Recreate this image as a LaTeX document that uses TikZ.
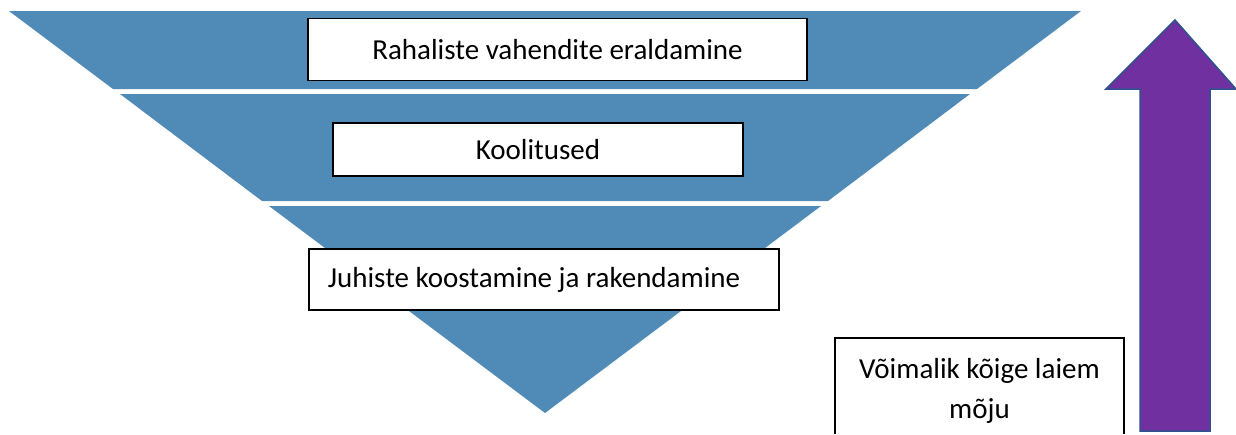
\documentclass[tikz,border=0pt]{standalone}
\usepackage{fontspec}
\setmainfont{Carlito}
\definecolor{band}{RGB}{79,139,182}
\definecolor{arrowfill}{RGB}{112,48,160}
\definecolor{arrowline}{RGB}{47,82,143}
\begin{document}
\begin{tikzpicture}[x=1pt,y=-1pt,
  bandfill/.style={fill=band,draw=none},
  labelbox/.style={draw=black,line width=1.5pt,fill=white,inner sep=0pt,font=\fontsize{29}{40}\selectfont},
  plaintext/.style={font=\fontsize{29}{40}\selectfont,align=center,inner sep=0pt}]
\useasboundingbox (0,0) rectangle (1236,434);
% funnel bands
\fill[band] (9,11) -- (1081,11) -- (977,89) -- (113,89) -- cycle;
\fill[band] (120,94) -- (970,94) -- (828,201) -- (262,201) -- cycle;
\fill[band] (269,206) -- (821,206) -- (545,413) -- cycle;
% label boxes
\node[labelbox,minimum width=499pt,minimum height=62pt] (b1) at (557.5,49.5) {Rahaliste vahendite eraldamine};
\node[labelbox,minimum width=410pt,minimum height=53pt] (b2) at (538,149.5) {Koolitused};
\node[labelbox,minimum width=470pt,minimum height=61pt] (b3) at (544,279.5) {\hspace*{-20pt}Juhiste koostamine ja rakendamine};
% arrow
\draw[fill=arrowfill,draw=arrowline,line width=1.5pt,line join=miter]
  (1175,20) -- (1236,89) -- (1210,89) -- (1210,431) -- (1140,431) -- (1140,89) -- (1106,89) -- cycle;
% bottom box (cut off)
\coordinate (c1) at (835,434);
\coordinate (c2) at (835,338);
\coordinate (c3) at (1124,338);
\coordinate (c4) at (1124,434);
\fill[white] (c1) rectangle (c3);
\draw[black,line width=1.5pt] (c1) -- (c2) -- (c3) -- (c4);
\node[plaintext] (t4) at (979.5,391) {Võimalik kõige laiem\\mõju};
\end{tikzpicture}
\end{document}
